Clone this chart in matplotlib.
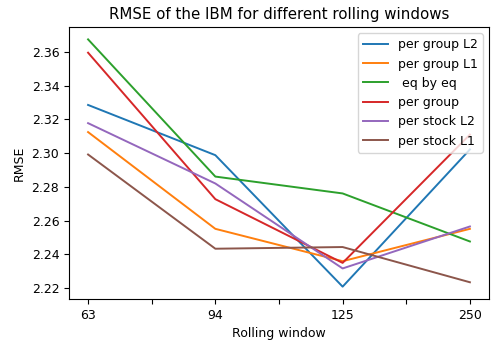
import numpy as np
import matplotlib
matplotlib.use("Agg")
import matplotlib.pyplot as plt

windows = ["63", "94", "125", "250"]
per_group_l2 = [2.3286, 2.2988, 2.2208, 2.3022]
per_group_l1 = [2.3125, 2.2551, 2.2359, 2.2551]
eq_by_eq = [2.3675, 2.2861, 2.2761, 2.2476]
per_group = [2.3596, 2.2727, 2.2349, 2.3110]
per_stock_l2 = [2.3178, 2.2820, 2.2316, 2.2565]
per_stock_l1 = [2.2992, 2.2433, 2.2443, 2.2234]

series = [
    (per_group_l2, "per group L2"),
    (per_group_l1, "per group L1"),
    (eq_by_eq, " eq by eq"),
    (per_group, "per group"),
    (per_stock_l2, "per stock L2"),
    (per_stock_l1, "per stock L1"),
]

plt.rcParams["font.size"] = 9
plt.rcParams["lines.linewidth"] = 1.4

fig = plt.figure(figsize=(4.92, 3.45), dpi=100)
ax = fig.add_axes([0.1402, 0.1333, 0.8537, 0.7884])

x = np.arange(len(windows))
for vals, lab in series:
    ax.plot(x, vals, label=lab)

# ticks every half step, labels only on the real windows
ax.set_xticks(np.arange(0, len(windows) - 0.5, 0.5))
labels = []
for w in windows:
    labels += [w, ""]
ax.set_xticklabels(labels[:-1])

ax.set_title("RMSE of the IBM for different rolling windows", fontsize=10.8)
ax.set_xlabel("Rolling window")
ax.set_ylabel("RMSE")
ax.legend(loc="upper right")

fig.savefig("out.png", dpi=100)
